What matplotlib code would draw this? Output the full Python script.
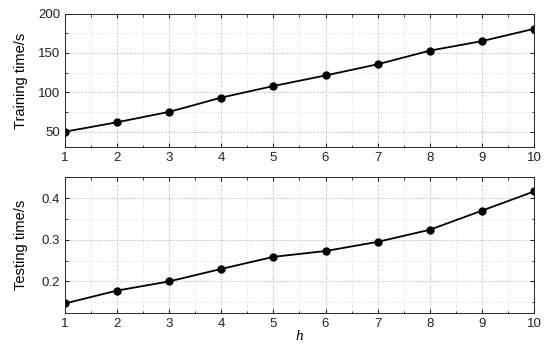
import matplotlib
matplotlib.use("Agg")
import matplotlib.pyplot as plt
from matplotlib.ticker import MultipleLocator

h = [1, 2, 3, 4, 5, 6, 7, 8, 9, 10]
train_time = [50, 62, 75.2, 93.3, 108, 121.4, 135.6, 152.9, 165, 180.6]
test_time = [0.147, 0.178, 0.200, 0.230, 0.259, 0.273, 0.295, 0.324, 0.370, 0.416]

plt.rcParams['font.family'] = ['Liberation Sans', 'DejaVu Sans']

fig = plt.figure(figsize=(5.5, 3.47), dpi=100)
ax1 = fig.add_axes([0.118, 0.575, 0.853, 0.386])
ax2 = fig.add_axes([0.118, 0.099, 0.853, 0.390])

def style(ax, ymaj, ymin):
    ax.set_xlim(1, 10)
    ax.xaxis.set_major_locator(MultipleLocator(1))
    ax.xaxis.set_minor_locator(MultipleLocator(0.5))
    ax.yaxis.set_major_locator(MultipleLocator(ymaj))
    ax.yaxis.set_minor_locator(MultipleLocator(ymin))
    ax.grid(True, which='major', linestyle=':', color='#b0b0b0', linewidth=0.7)
    ax.grid(True, which='minor', linestyle=':', color='#d8d8d8', linewidth=0.6)
    ax.tick_params(which='both', direction='in', top=True, right=True, labelsize=9.5,
                   color='#262626', labelcolor='#222222')
    ax.tick_params(which='major', length=3)
    ax.tick_params(which='minor', length=1.8)
    for s in ax.spines.values():
        s.set_color('#262626')
        s.set_linewidth(0.7)
    ax.set_axisbelow(True)

ax1.plot(h, train_time, color='black', marker='o', markersize=5, linewidth=1.3)
ax1.set_ylim(30, 200)
style(ax1, 50, 25)
ax1.set_ylabel('Training time/s', fontsize=10.5)
ax1.yaxis.set_label_coords(-0.078, 0.5)

ax2.plot(h, test_time, color='black', marker='o', markersize=5, linewidth=1.3)
ax2.set_ylim(0.125, 0.45)
style(ax2, 0.1, 0.05)
ax2.set_ylabel('Testing time/s', fontsize=10.5)
ax2.yaxis.set_label_coords(-0.078, 0.5)
ax2.set_xlabel('h', fontsize=11, family=['Liberation Serif', 'DejaVu Serif'], style='italic', labelpad=0)

fig.savefig('out.png', dpi=100)
